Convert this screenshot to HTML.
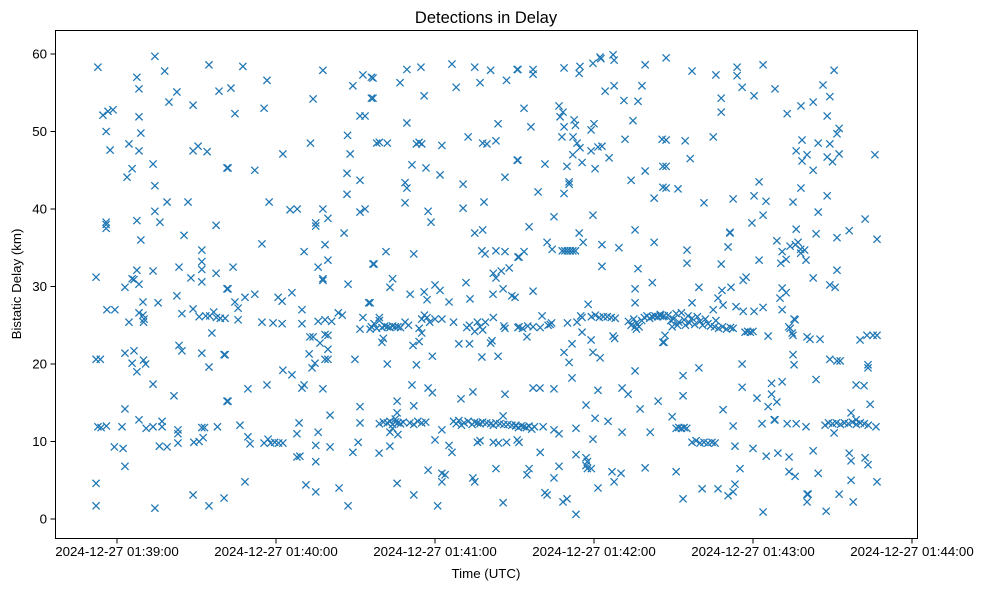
<!DOCTYPE html>
<html><head><meta charset="utf-8"><style>
html,body{margin:0;padding:0;background:#fff;}
svg{display:block;font-family:"Liberation Sans",sans-serif;}
</style></head><body>
<svg id="chart" width="988" height="590" viewBox="0 0 988 590" xmlns="http://www.w3.org/2000/svg">
<rect x="0" y="0" width="988" height="590" fill="#fff"/>
<text x="486" y="23" font-size="16.5" text-anchor="middle" fill="#000">Detections in Delay</text>
<g id="marks"></g>
<rect x="55.5" y="30.5" width="862" height="508" fill="none" stroke="#000" stroke-width="1"/>
<g id="xaxis"></g>
<g id="yaxis"></g>
<text x="486" y="578" font-size="13.3" text-anchor="middle">Time (UTC)</text>
<text transform="translate(21,284) rotate(-90)" font-size="13.3" text-anchor="middle">Bistatic Delay (km)</text>
</svg>
<script>
// seconds after 2024-12-27 01:39:00 UTC
const times = [
-7.2,14.3,34.7,7.5,18,8.3,22.6,19.6,38.5,28.7,-5.3,-3.4,-1.5,8.3,-4.1,9,-2.6,4.5,8.3,28.7,30.6,34,5.7,3.8,13.6,14.3,41.5,18.9,26.8,14.3,-4.1,-4.1,-4.1,7.5,16.2,37.4,9,25.3,32,32,32,32,-7.9,7.5,13.6,23.4,37.4,5.7,6.4,3,8.3,27.9,41.5,22.6,9.8,15.5,-3.8,-0.8,4.5,8.3,9.8,10.2,10,24.5,28.7,31,33.5,35,36.5,37.5,39,35.8,23.4,24.5,32,40.4,34.7,-7.9,-6.3,3,6.4,5.7,10,10.8,7.5,13.6,21.5,41.5,3,-7.2,-6,-4,1.9,8.3,11,13.6,17,17,23,23,23,29,31,32.5,32,33,37.9,-1,2.3,16,18.9,3,-7.9,28.7,40.4,-7.9,14.3,34.7,
47.5,56.6,43,77.7,92.8,96,89,96,74,44.5,55.5,91.7,93.6,87,73,88,62.6,41.9,52,86.8,91.7,86.8,57.4,65.3,68,77.7,79.6,91.7,93.6,75,75,85.7,54.7,70.6,78.5,79.6,75.9,43.8,96.6,77.7,77.7,87.2,41.9,44.5,45.7,48.3,52,60.8,62.3,66,69.8,95,40.8,45.7,54.7,58.9,62.3,69.8,75.9,78.5,81,83.5,85,92.8,91.7,95.5,72.8,74,78.5,79.6,76.6,79.6,78.5,79.6,72.5,89.8,74.7,73.6,40.8,62.6,66,49.4,56.6,69.8,70.6,77.7,41.9,91.7,80.4,91.7,68.7,46.4,49.4,50.2,55.5,57,58,59.5,61,62.6,67.9,75.9,75,80.4,91,89,67.9,69,75,48.3,71.3,75,83.8,87.2,
96.6,109.4,114.7,126.4,135,141,151,106.8,128,137,147,96.6,115.9,109.4,143.8,98,99,102,113,114,115,122.6,132.5,138,139.6,143,151,111.3,116.6,121.9,130.6,146.4,108.7,109.4,108.7,117.4,118.5,130.6,138.5,135,138,97,101.5,112,137.7,138.9,143,146.4,151.3,142,143,145,148,104,103,131.7,120,121.9,110.6,115.9,117,125.3,133.2,141.9,145.7,149,95.5,
96,97,98,99,99,100,101,102,103,104,105,106,107,100,100.5,108.7,110,114,115,116,117,118,120,122.6,127,115,114,111.7,132,133,135,136,137,139,138,129,133,141,141.5,146.4,146,151.3,142,102,113,119,137.7,143.8,111.3,117.4,119,129.8,134.3,146.4,105.7,105.7,112,
99,100.5,102,103,104,105,106,107,108,110.5,112,113.5,115,116.5,104,105,103,106,98.9,103,120,122.6,125.3,126.4,127,128,129,130,131,132.5,134,135,136,137,138,139.5,141,142,143,144.5,146,147.5,149,150.5,145.7,136,137,142,144,147,151,117.4,122.6,123.8,122.6,134.3,135,143,105.7,112,121,145.7,
151.3,157,157,168.7,174.7,174.4,179.6,182.3,182.6,187.2,187.6,199.3,184.2,187.6,191.3,196.6,198.1,153.6,166.8,168.3,167.2,156.2,172.5,173,168.7,180,178.9,194.7,167.9,172.1,173.6,174.7,178.9,181.5,183,191.7,205.7,172,175.5,169.8,151.3,161.5,180.4,185.7,199.3,194,206,170.6,170.6,158.9,168.7,202.7,206,164.9,179.6,155.5,195.5,174.4,175.9,162.3,164.2,168,169,170,171,172,173,183,189.4,202.7,151.7,153.6,183,196.6,202,195.5,157,150.2,177.8,195.5,
151.7,153,155,157,159.7,160.4,162.7,164,163.5,170,173.6,175,175.5,179,180.5,182,183.5,185,186.5,188,193,194,195,196,197,198,199,200,201,202,203,204,205,206,195.5,196,154.7,175.5,178.9,187.2,187.8,206,171.7,168.7,179.6,182.3,170.6,195.5,171.7,157,159.6,164.9,181.5,190.6,192.9,204.2,177,197.4,180.4,185.3,
150.5,151.5,152.5,153.5,154.5,155.5,156.5,157.5,160.8,164.9,166.8,173.2,190.6,201.2,151.7,179.6,159.7,173.2,177,177.5,177,177.5,179,155.5,154.7,166.8,164.9,186.8,190.2,187.6,199.3,181.5,161.5,162.3,168.3,169.8,173.2,
207.2,217,226,234,234,243.8,235.9,240.4,248.3,228,228,252.9,258.1,207.2,214.4,225,216.3,207.2,258.5,256.3,258.5,260.4,207.2,211.7,242.3,240.4,244.9,258.1,221.5,232.5,255.1,243.8,239.6,231.3,231.3,256.3,230.6,215.1,215.1,228,242.3,249,254,251,252.5,250.5,257,259.5,260,219.6,228.3,231.7,236.3,237.4,226.8,228.7,251,252.5,250.2,217,225,233.6,236.3,240.4,243.8,251,
205,206.5,208,209,210,211,212,213,214,214.5,215.5,216,217,218,219,220,221,222,223,224,209.5,211.5,226,225.5,227,228.5,230,231.5,232.5,237,238,239,240,245.7,255.9,254,255.1,254.8,260.4,206.8,206.4,255.1,255.5,235.9,219.6,213.6,235.9,213.6,247,251,247,249,245.7,241.5,228.7,209.5,211,212,213,214,215,232.5,243.4,248.3,252.9,256.3,260,217,218.5,220,221.5,223,224.5,225.7,233.2,240,245,249.4,253.6,235.1,211,253.6,255.9,220.8,226.8,233.2,230.6,232.5,213.6,243.8,260.4,260.4,
270.6,266.4,269,262.7,268,272.5,271.7,264.6,269,262.7,268,270,272.5,286,268,264.6,282.3,263.8,256,258,258,271.7,276.3,286.8,262.7,271.7,269,271,255.5,253.5,261.5,265.3,280.4,283,285.3,286.8,269,271.7,272.9,283.4,283.4,263.8,278.9,281.9,284.2,248,267.2,268.5,270,271.5,273,274.5,276,277.5,279,280.5,282,283.5,270.6,277,278.9,286.4,262.7,276.3,277,282.3,283.4,264.6,277,286.8,260.8,272.5,277.8,267.6
];
const delays = [
58.3,59.7,58.6,57,57.8,55.5,55.1,53.8,55.2,53.4,52.1,52.6,52.8,51.9,50,49.8,47.6,48.4,47.5,47.5,48.1,47.4,45.2,44.1,45.8,43,45.3,40.9,40.9,39.7,37.5,38,38.3,38.5,38.3,37.9,36,36.6,34.7,33.2,32.2,30.6,31.2,32.1,32,32.5,31.7,31,30.9,29.9,30.3,31.1,29.7,28.8,28,27.9,27,27,25.4,26.6,26.3,25.8,25.4,26.5,27.1,26.1,26.2,26.2,26.7,26,25.9,24,22.4,21.7,21.4,21.2,19.6,20.6,20.6,21.4,21.7,20.1,20.5,20,19,17.4,15.9,15.2,14.2,11.9,11.8,12,11.9,12.8,11.7,11.9,12.6,11.9,11.5,11,9.8,9.9,10,10.5,11.8,11.8,11.9,9.3,9.1,9.4,9.3,6.8,4.6,3.1,2.7,1.7,1.4,1.7,
58.4,56.6,55.6,57.9,57.3,57,55.9,54.3,54.2,52.3,53,52,52,49.5,48.5,47.1,47.1,45.3,45,44.6,43.7,41.9,40.9,39.9,40,40,38.8,39.6,40,38.2,37.8,36.9,35.5,34.5,35.4,33.4,32.5,32.5,32.9,30.8,31,30.3,29.7,28,27.2,28.6,29,28.6,28.1,29.2,27,27.9,25.9,25.7,25.4,25.3,25.2,25.2,25.5,25.7,25.5,26.6,26.3,26,24.5,24.5,23.5,23.5,23.8,23.7,22.7,21.9,20.6,20.6,21.3,20.6,20.1,19.5,21.2,19.2,18.6,16.8,17.3,16.9,17.3,16.8,15.2,14.5,13.4,12.4,12.4,12.1,10.6,9.7,9.8,10.3,9.8,9.9,9.8,9.8,11,11.2,9.5,9.3,9.9,8.6,8,8.1,7.4,4.8,4.4,3.5,4,1.7,
56.9,58,58.3,58.7,58.3,57.9,58,56.3,55.7,56.3,56.6,54.3,54.6,51.1,51,48.5,48.6,48.5,48.4,48.6,48.4,48.2,49.3,48.5,48.4,48.8,46.3,45.7,45.3,44.4,43.2,44.1,43.4,42.7,40.8,39.7,38.3,40.1,40.9,36.9,37.3,32.9,34.5,34.2,34.6,34.2,34.6,34.5,33.8,31.7,31.1,32,32.4,31,29.9,30.5,30.2,29.5,29,29.3,28.3,28,28.4,29,29.7,28.8,27.9,
24.8,25.2,24.6,26,25.6,24.7,24.9,24.8,24.7,24.9,24.8,24.8,24.7,22.8,23.3,25.4,25,24.6,25.8,26.3,26,25.4,25.8,25.8,25.4,24,22.9,22.4,24.7,25,24.2,25.4,24.8,25.4,24.4,22.6,22.6,22.7,23,24.6,24.9,24.7,26,20,19.9,21,20.9,21,17.3,16.9,16.3,15.5,16.4,16.1,15.2,13.7,14.6,
12.3,12.5,12.4,12.6,12.2,12.5,12.4,12.3,12.5,12.4,12.2,12.6,12.4,12.5,11.7,12.9,11.2,10.9,8.5,9.4,10.2,11.5,9.5,8.6,12.6,12.3,12.7,12.1,12.4,12.6,12.2,12.5,12.4,12.3,12.5,12.4,12.3,12.1,12.4,12.3,12.2,12.2,12.1,12.1,13.3,9.9,10.1,9.9,9.8,9.9,10.2,6.3,5.9,5.7,4.8,5.3,4.8,6.5,4.6,3.1,1.7,2.1,
58,58,57.4,58.2,58.4,57.5,58.8,59.6,59.4,59.9,59.2,58.6,55.2,55.9,54,53.9,55.9,53,53.3,52.5,51.9,50.6,51.5,50.8,50.6,51,50.2,51.4,49.3,49.3,48.5,47.9,47.5,48,48.1,49,49,47,46,45.5,46.3,45.8,45.2,46.6,44.9,43.7,45.5,43.5,43.2,42.2,42,41.4,42.8,39,39.2,37.7,37.3,36.9,35.7,35.7,34.8,34.6,34.6,34.6,34.6,34.6,34.6,35.4,35,35.7,33.8,34.5,32.6,32.3,30.5,29.7,29.4,28.6,27.7,27.9,
24.8,24.6,24.9,24.8,24.7,26.2,25,25.3,25.1,25.3,25.4,26.2,26,26.1,26.3,26,26.1,26.1,26,25.9,25.5,25,25.8,25.3,24.8,25.6,26,26.2,25.9,26.1,26.2,26.1,26.2,26.1,24.8,24.5,23.5,24.1,23.1,23.6,23.3,22.8,22.6,21.5,21.5,20.8,20.2,19.1,18.2,16.9,16.9,16.8,16.6,16.9,16.1,15.2,14.7,14.2,13,12.6,
12,11.8,12,11.9,11.8,12,11.6,11.9,11.9,11.5,11,11.7,11.2,11.2,9.9,10.3,8.6,8.3,7.9,7.4,6.9,6.5,6.5,6.5,5.7,6.8,5.3,6.1,5.9,4.8,6.6,4,3.4,3.1,2.2,2.6,0.6,
59.5,57.8,57.3,58.3,57.2,58.6,55.7,54.6,55.5,54.3,52.5,52.3,53.3,48.9,48.8,49.3,46.5,45.5,48.9,47.5,46.2,47,42.7,42.6,43.5,41.7,41,42.7,40.8,41.3,40.9,39.2,38.2,37,36.9,37.4,35.1,34.7,33,32.9,33.4,35.9,35.2,34.5,33.5,33,35.7,34.7,33.4,29.9,29.5,29.9,30.8,31.2,28.5,27.6,29.8,29.2,28.5,27.9,27,27.4,26.8,26.8,27.3,27,
26.4,26.2,26.3,25.6,25.8,26.5,25.4,26.6,25.7,25,26.2,25.3,25.9,25.1,26.1,25.5,25,25.8,25.2,24.9,24.8,25,25.6,24.8,24.6,24.8,24.5,24.7,24.6,24.1,24.2,24.1,24.2,23.6,25.7,24.6,23.7,24,23.5,23.7,22.8,21.2,19.9,20,19.5,18.5,17,15.9,17.5,17.7,16.1,15.1,14.5,15.6,14.1,13.2,11.7,11.8,11.7,11.8,11.7,12,12.3,12.8,12.3,12.3,11.9,9.9,10.1,9.8,9.9,9.8,9.9,9.8,9.4,9.1,8.1,8.5,8,6.5,6.1,6.1,5.5,3.9,3.9,4.5,3,3.5,2.6,0.9,3.2,2.2,
57.9,56,54.5,53.8,52,50.4,49.7,48.5,48.4,45,46.7,46.1,47.1,47,41.7,39.6,38.7,36.8,35.4,34.8,34.3,36.3,37.2,36.1,31.1,32.1,30.2,29.9,25.8,24.8,23.2,23.2,23.1,23.7,23.7,23.7,20.6,20.4,20.4,19.9,19.5,18,17.3,17.2,14.8,12.8,12.1,12.4,12.3,12.4,12.2,12.4,12.3,12.5,12.2,12.4,12.3,12.1,11.1,13.7,12.8,11.9,8.8,8.5,7.5,7.9,7,5.9,5,4.8,3.2,3.2,2.2,1
];
const xTickSecs = [0,60,120,180,240,300];
const xTickLabels = ["2024-12-27 01:39:00","2024-12-27 01:40:00","2024-12-27 01:41:00","2024-12-27 01:42:00","2024-12-27 01:43:00","2024-12-27 01:44:00"];
const yTicks = [0,10,20,30,40,50,60];

const NS = "http://www.w3.org/2000/svg";
function xScale(t){ return 117 + t * 159 / 60; }
function yScale(d){ return 519 - d * 7.75; }

const marks = document.getElementById('marks');
const n = Math.min(times.length, delays.length);
for (let i = 0; i < n; i++) {
  const cx = xScale(times[i]), cy = yScale(delays[i]), s = 3.6;
  const p = document.createElementNS(NS, 'path');
  p.setAttribute('d', `M${cx-s},${cy-s}L${cx+s},${cy+s}M${cx-s},${cy+s}L${cx+s},${cy-s}`);
  p.setAttribute('stroke', '#1f77b4');
  p.setAttribute('stroke-width', '1.25');
  p.setAttribute('fill', 'none');
  
  
  marks.appendChild(p);
}

const xaxis = document.getElementById('xaxis');
xTickSecs.forEach((t, i) => {
  const x = xScale(t);
  const l = document.createElementNS(NS, 'line');
  l.setAttribute('x1', x); l.setAttribute('x2', x);
  l.setAttribute('y1', 538.5); l.setAttribute('y2', 543.5);
  l.setAttribute('stroke', '#000');
  
  
  xaxis.appendChild(l);
  const tx = document.createElementNS(NS, 'text');
  tx.setAttribute('x', x); tx.setAttribute('y', 556);
  tx.setAttribute('font-size', '13.3');
  tx.setAttribute('text-anchor', 'middle');
  tx.textContent = xTickLabels[i];
  
  
  xaxis.appendChild(tx);
});

const yaxis = document.getElementById('yaxis');
yTicks.forEach(v => {
  const y = yScale(v);
  const l = document.createElementNS(NS, 'line');
  l.setAttribute('x1', 50.5); l.setAttribute('x2', 55.5);
  l.setAttribute('y1', y); l.setAttribute('y2', y);
  l.setAttribute('stroke', '#000');
  
  
  yaxis.appendChild(l);
  const tx = document.createElementNS(NS, 'text');
  tx.setAttribute('x', 47); tx.setAttribute('y', y + 4.7);
  tx.setAttribute('font-size', '13.3');
  tx.setAttribute('text-anchor', 'end');
  tx.textContent = String(v);
  
  
  yaxis.appendChild(tx);
});
</script>
</body></html>
